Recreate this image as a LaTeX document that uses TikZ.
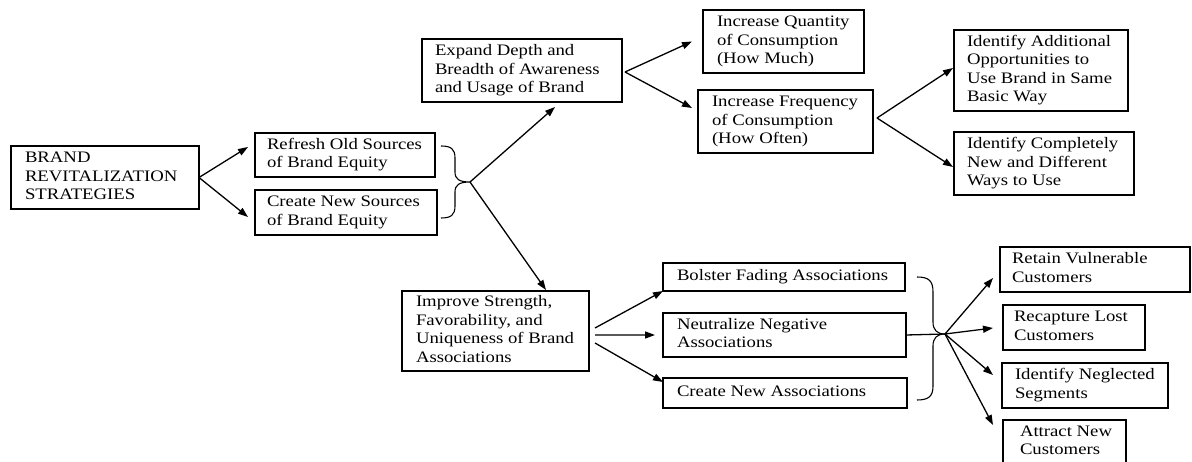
\documentclass[tikz,border=0pt]{standalone}
\usepackage{fontspec}
\setmainfont{Liberation Serif}[FakeStretch=1.17]
\usetikzlibrary{arrows.meta}
% left-aligned block of lines inside a fixed-width box
\newcommand\boxlines[2]{\makebox[#1][l]{\begin{tabular}{@{}l@{}}#2\end{tabular}}}
\begin{document}
\begin{tikzpicture}[x=1bp,y=-1bp,
  box/.style={draw, line width=1.1bp, anchor=north west, inner ysep=0pt, outer sep=0pt,
    font=\fontsize{16bp}{18.5bp}\selectfont},
  arr/.style={line width=1.3bp, -{Triangle[length=10bp,width=7bp]}},
  link/.style={line width=1.3bp},
  brace/.style={line width=1.1bp}]
\useasboundingbox (0,0) rectangle (1192,462);

% level 1
\node[box, minimum width=188bp, minimum height=63bp, inner xsep=14bp] (brand) at (11,146)
  {\boxlines{160bp}{BRAND\\REVITALIZATION\\STRATEGIES}};

% level 2
\node[box, minimum width=180bp, minimum height=44bp, inner xsep=12bp] (refresh) at (255,133)
  {\boxlines{156bp}{Refresh Old Sources\\of Brand Equity}};
\node[box, minimum width=182bp, minimum height=45bp, inner xsep=12bp] (createsrc) at (255,190)
  {\boxlines{158bp}{Create New Sources\\of Brand Equity}};

% level 3
\node[box, minimum width=200bp, minimum height=63bp, inner xsep=13bp] (expand) at (422,39)
  {\boxlines{174bp}{Expand Depth and\\Breadth of Awareness\\and Usage of Brand}};
\node[box, minimum width=187bp, minimum height=80bp, inner xsep=14bp] (improve) at (402,291)
  {\boxlines{159bp}{Improve Strength,\\Favorability, and\\Uniqueness of Brand\\Associations}};

% usage branch
\node[box, minimum width=161bp, minimum height=63bp, inner xsep=14bp] (quantity) at (703,10)
  {\boxlines{133bp}{Increase Quantity\\of Consumption\\(How Much)}};
\node[box, minimum width=175bp, minimum height=63bp, inner xsep=14bp] (frequency) at (698,90)
  {\boxlines{147bp}{Increase Frequency\\of Consumption\\(How Often)}};
\node[box, minimum width=174bp, minimum height=81bp, inner xsep=13bp] (additional) at (954,30)
  {\boxlines{148bp}{Identify Additional\\Opportunities to\\Use Brand in Same\\Basic Way}};
\node[box, minimum width=180bp, minimum height=63bp, inner xsep=13bp] (completely) at (954,132)
  {\boxlines{154bp}{Identify Completely\\New and Different\\Ways to Use}};

% associations branch
\node[box, minimum width=242bp, minimum height=28bp, inner xsep=14bp] (bolster) at (663,263)
  {\boxlines{214bp}{Bolster Fading Associations}};
\node[box, minimum width=243bp, minimum height=44bp, inner xsep=14bp] (neutralize) at (663,313)
  {\boxlines{215bp}{Neutralize Negative\\Associations}};
\node[box, minimum width=244bp, minimum height=30bp, inner xsep=14bp] (createassoc) at (663,378)
  {\boxlines{216bp}{Create New Associations}};

% customer targets
\node[box, minimum width=190bp, minimum height=45bp, inner xsep=12bp] (retain) at (1000,247)
  {\boxlines{166bp}{Retain Vulnerable\\Customers}};
\node[box, minimum width=142bp, minimum height=45bp, inner xsep=11bp] (recapture) at (1003,305)
  {\boxlines{120bp}{Recapture Lost\\Customers}};
\node[box, minimum width=166bp, minimum height=45bp, inner xsep=13bp] (neglected) at (1002,363)
  {\boxlines{140bp}{Identify Neglected\\Segments}};
\node[box, minimum width=123bp, minimum height=44bp, inner xsep=17bp] (attract) at (1003,420)
  {\boxlines{89bp}{Attract New\\Customers}};

% braces
\coordinate (b1) at (470,182);
\coordinate (b2) at (945,334);
\draw[brace] (441,146) .. controls (451,146) and (455,149) .. (455,158) -- (455,172)
  .. controls (455,179) and (459,182) .. (b1)
  .. controls (459,182) and (455,185) .. (455,192) -- (455,206)
  .. controls (455,215) and (451,218) .. (441,218);
\draw[brace] (917,277) .. controls (929,277) and (933,281) .. (933,292) -- (933,322)
  .. controls (933,330) and (937,334) .. (b2)
  .. controls (937,334) and (933,338) .. (933,346) -- (933,386)
  .. controls (933,396) and (929,400) .. (917,400);

% connectors
\draw[arr] (brand.east) -- ([shift={(-7,-8)}]refresh.west);
\draw[arr] (brand.east) -- ([shift={(-7,4.5)}]createsrc.west);

\draw[arr] (b1) -- ([shift={(33,5)}]expand.south);
\draw[arr] (b1) -- ([shift={(50.5,-1)}]improve.north);

\draw[arr] ([shift={(3,1.5)}]expand.east) -- ([shift={(-11,0)}]quantity.west);
\draw[arr] ([shift={(3,1.5)}]expand.east) -- ([shift={(-6,-13.5)}]frequency.west);

\draw[arr] ([shift={(4,-3.5)}]frequency.east) -- ([shift={(-1,-2.5)}]additional.west);
\draw[arr] ([shift={(4,-3.5)}]frequency.east) -- ([shift={(-1,3.5)}]completely.west);

\draw[arr] ([shift={(6,-3)}]improve.east) -- (bolster.south west);
\draw[arr] ([shift={(6,4)}]improve.east) -- ([shift={(-8,0)}]neutralize.west);
\draw[arr] ([shift={(6,12)}]improve.east) -- ([shift={(0,4)}]createassoc.north west);

\draw[link] (neutralize.east) -- (b2);
\draw[arr] (b2) -- ([shift={(-7,8.5)}]retain.west);
\draw[arr] (b2) -- ([shift={(-10,0.5)}]recapture.west);
\draw[arr] (b2) -- ([shift={(-9,-10.5)}]neglected.west);
\draw[arr] (b2) -- ([shift={(-10,-17)}]attract.west);
\end{tikzpicture}
\end{document}
